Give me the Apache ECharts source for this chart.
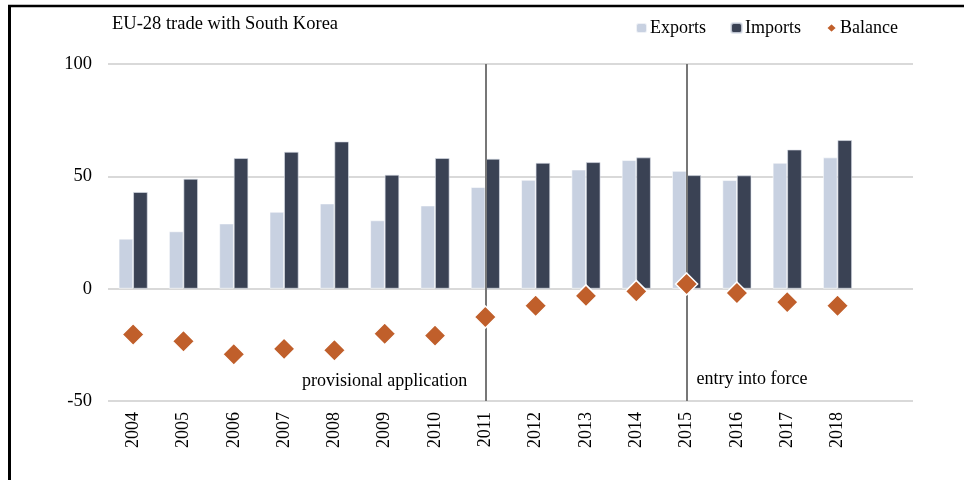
<!DOCTYPE html>
<html>
<head>
<meta charset="utf-8">
<script src="https://cdn.jsdelivr.net/npm/echarts@6/dist/echarts.min.js"></script>
<style>
  html, body { margin: 0; padding: 0; background: #fff; }
  #chart { width: 964px; height: 480px; }
</style>
</head>
<body>
<div id="chart"></div>
<script>
const years = ['2004', '2005', '2006', '2007', '2008', '2009', '2010', '2011',
  '2012', '2013', '2014', '2015', '2016', '2017', '2018', ''];
const exportsVals = [22.2, 25.5, 29.0, 34.2, 37.9, 30.4, 37.0, 45.2, 48.4, 53.0, 57.2, 52.4, 48.3, 56.0, 58.4];
const importsVals = [43.0, 48.9, 58.1, 60.9, 65.5, 50.7, 58.1, 57.8, 56.0, 56.3, 58.4, 50.5, 50.4, 61.9, 66.1];
const balanceVals = [-20.4, -23.4, -29.2, -26.8, -27.4, -20.1, -20.9, -12.6, -7.6, -3.2, -1.2, 2.1, -1.9, -6.0, -7.6];
const yTicks = { min: -50, max: 100, step: 50 };
const milestones = [
  { year: '2011', text: 'provisional application', side: 'left', y: -41.3, gap: 18 },
  { year: '2015', text: 'entry into force', side: 'right', y: -40.5, gap: 10 }
];

const font = 'Liberation Serif';
const chart = echarts.init(document.getElementById('chart'));

chart.setOption({
  animation: false,
  textStyle: { fontFamily: font, color: '#000' },
  title: {
    text: 'EU-28 trade with South Korea',
    left: 112, top: 15, padding: 0,
    textStyle: { fontFamily: font, fontSize: 18.5, fontWeight: 'normal', color: '#000' }
  },
  legend: {
    data: ['Exports', 'Imports', { name: 'Balance', icon: 'diamond' }],
    right: 66, top: 19, padding: 0,
    itemWidth: 11, itemHeight: 10, itemGap: 24,
    textStyle: { fontFamily: font, fontSize: 18, color: '#000', padding: [0, 0, 0, -2] }
  },
  grid: { left: 108, right: 51, top: 64, bottom: 79 },
  xAxis: {
    type: 'category',
    data: years,
    axisLine: { show: false },
    axisTick: { show: false },
    axisLabel: { rotate: 90, margin: 11, fontFamily: font, fontSize: 18, color: '#000', interval: 0 }
  },
  yAxis: {
    type: 'value',
    min: yTicks.min, max: yTicks.max, interval: yTicks.step,
    axisLine: { show: false },
    axisTick: { show: false },
    axisLabel: { margin: 16, fontFamily: font, fontSize: 18.5, color: '#000' },
    splitLine: { lineStyle: { color: '#d9d9d9', width: 2 } }
  },
  graphic: [
    { type: 'line', shape: { x1: 9.5, y1: 6, x2: 9.5, y2: 480 }, style: { stroke: '#000', lineWidth: 3 } },
    { type: 'line', shape: { x1: 8, y1: 6, x2: 964, y2: 6 }, style: { stroke: '#000', lineWidth: 2.5 } }
  ],
  series: [
    {
      name: 'Exports',
      type: 'bar',
      data: exportsVals,
      barWidth: 14.5,
      barGap: '0%',
      itemStyle: { color: '#c8d1e1', borderColor: 'rgba(255,255,255,0.7)', borderWidth: 0.8 }
    },
    {
      name: 'Imports',
      type: 'bar',
      data: importsVals,
      barWidth: 14.5,
      itemStyle: { color: '#3a4254', borderColor: 'rgba(220,225,235,0.8)', borderWidth: 0.8 }
    },
    {
      name: 'milestones',
      type: 'line',
      data: [],
      z: 3,
      markLine: {
        silent: true,
        symbol: 'none',
        label: { show: false },
        lineStyle: { color: '#777', width: 2, type: 'solid' },
        data: milestones.map(m => [{ coord: [m.year, yTicks.min] }, { coord: [m.year, yTicks.max] }])
      },
      markPoint: {
        silent: true,
        symbolSize: 0,
        data: milestones.map(m => ({
          coord: [m.year, m.y],
          label: {
            show: true, formatter: m.text, position: m.side, distance: m.gap,
            fontFamily: font, fontSize: 18, color: '#000'
          }
        }))
      }
    },
    {
      name: 'Balance',
      type: 'scatter',
      data: balanceVals,
      symbol: 'diamond',
      symbolSize: 22,
      z: 6,
      itemStyle: { color: '#c05f2b', opacity: 1, borderColor: '#fff', borderWidth: 1.5 }
    }
  ]
});
</script>
</body>
</html>
